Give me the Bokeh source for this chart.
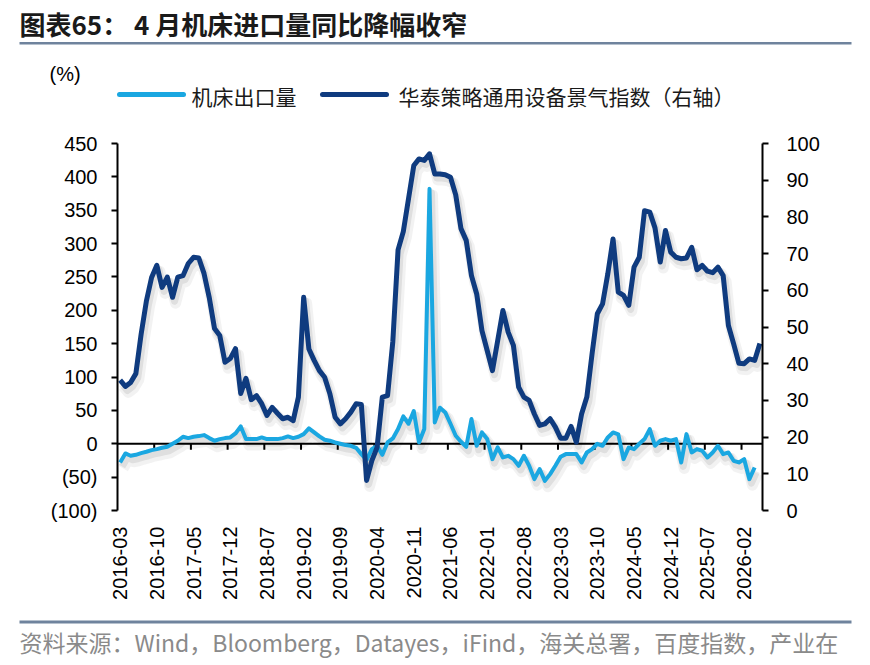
import math
import pandas as pd
from bokeh.plotting import figure
from bokeh.layouts import column
from bokeh.models import Range1d, LinearAxis, FixedTicker, ColumnDataSource, Span
from bokeh.core.properties import value
from bokeh.embed import file_html
from bokeh.resources import INLINE

# ---------------- data ----------------
months = list(pd.period_range("2016-03", periods=123, freq="M").strftime("%Y-%m"))

export_yoy = [
    -28, -14.5, -18, -16.5, -14, -12, -9.5, -8, -6, -4.5,
    0, 4.5, 10.5, 8.5, 10.5, 11.5, 13, 8.5, 4.5, 7,
    8.5, 9.5, 15.5, 26, 7, 7, 7, 9.5, 7, 7,
    7, 8.5, 11, 8.5, 10.5, 14.5, 23, 17, 11, 6,
    4.5, 2, 0, -2, -3, -6, -15.5, -24, -8, -3,
    -16.5, 2, 8, 22, 41, 30, 49, 2, 22, 382,
    32, 54, 47, 30, 12, 3, -4.5, 37, -3, 17,
    7, -23, -5.5, -20.5, -18, -23, -33, -18, -33, -53,
    -38, -55.5, -45.5, -33, -19.5, -15.5, -15.5, -15.5, -28, -13,
    -8, 0, -3, 9.5, 17, 14, -23, -5.5, -8, 0,
    7, 22, -3, 4.5, 7, 4.5, 7, -28, 14.5, -13,
    -8, -10.5, -20.5, -13, -3, -15.5, -13, -25.5, -28, -23,
    -53, -35.5, float("nan"),
]

equip_index = [
    35.5, 33.8, 34.9, 37.3, 48.0, 57.0, 63.5, 66.8, 60.8, 63.6,
    58.1, 63.6, 64.0, 67.3, 69.0, 68.8, 64.6, 58.0, 49.6, 47.7,
    40.4, 41.4, 44.1, 31.9, 36.0, 30.2, 31.3, 29.1, 25.9, 28.1,
    26.5, 25.0, 25.4, 24.5, 30.9, 58.1, 44.0, 40.9, 38.1, 36.3,
    31.8, 25.4, 23.6, 25.0, 26.8, 29.1, 28.9, 8.2, 13.6, 17.2,
    30.9, 31.3, 46.0, 71.0, 76.0, 85.0, 94.0, 95.8, 95.4, 97.2,
    91.7, 91.7, 91.5, 90.8, 86.0, 76.8, 73.6, 64.0, 59.0, 49.0,
    43.6, 38.1, 46.3, 54.5, 48.6, 45.0, 33.6, 30.9, 30.0, 26.3,
    23.2, 23.6, 25.0, 22.7, 19.7, 19.7, 22.9, 18.6, 26.3, 30.9,
    42.7, 53.6, 56.3, 64.5, 74.0, 59.5, 58.6, 55.9, 66.3, 69.0,
    81.7, 81.3, 77.0, 67.7, 76.3, 70.4, 69.0, 68.6, 68.8, 71.7,
    65.6, 66.8, 65.2, 64.8, 66.3, 64.0, 50.4, 45.4, 40.1, 40.0,
    41.3, 40.9, 45.5,
]

left_ticks = [-100, -50, 0, 50, 100, 150, 200, 250, 300, 350, 400, 450]
right_ticks = [0, 10, 20, 30, 40, 50, 60, 70, 80, 90, 100]
label_step = 7

title_text = "图表65： 4 月机床进口量同比降幅收窄"
unit_text = "(%)"
legend_export = "机床出口量"
legend_index = "华泰策略通用设备景气指数（右轴）"
source_text = "资料来源：Wind，Bloomberg，Datayes，iFind，海关总署，百度指数，产业在"

# ---------------- style / layout ----------------
LIGHT = "#1AA7E1"
DARK = "#0F3B7F"
RULE = "#6F839D"
CJK = "Noto Sans CJK SC"
LAT = "Liberation Sans"

W, H = 870, 665
HDR_H = 131            # header strip (title, unit, legend)
FT, FB = 143, 510      # frame top / bottom in page px
FL, FR = 117, 762      # frame left / right in page px
MAIN_BOTTOM = 612
MAIN_H = MAIN_BOTTOM - HDR_H
FOOT_H = H - MAIN_BOTTOM

def blank(height):
    f = figure(width=W, height=height, x_range=Range1d(0, W), y_range=Range1d(height, 0),
               output_backend="svg", toolbar_location=None, min_border=0,
               x_axis_type=None, y_axis_type=None)
    f.frame_align = False
    f.outline_line_color = None
    f.xgrid.visible = False
    f.ygrid.visible = False
    f.background_fill_color = "white"
    f.border_fill_color = "white"
    return f

# ---------------- header ----------------
hdr = blank(HDR_H)
hdr.text(x=[19], y=[23], text=[title_text], text_font=value(CJK), text_font_size="26px",
         text_font_style="bold", text_color="#1A1A1A", text_baseline="middle")
hdr.quad(left=[19], right=[851], top=[41.5], bottom=[44], fill_color=RULE, line_color=None)
hdr.text(x=[49], y=[73], text=[unit_text], text_font=value(LAT), text_font_size="20px",
         text_color="#000000", text_baseline="middle")
hdr.segment(x0=[119], y0=[94], x1=[183], y1=[94], line_color=LIGHT, line_width=5, line_cap="round")
hdr.text(x=[191], y=[95], text=[legend_export], text_font=value(CJK), text_font_size="21px",
         text_color="#1A1A1A", text_baseline="middle")
hdr.segment(x0=[322], y0=[94], x1=[386], y1=[94], line_color=DARK, line_width=5, line_cap="round")
hdr.text(x=[398], y=[95], text=[legend_index], text_font=value(CJK), text_font_size="21px",
         text_color="#1A1A1A", text_baseline="middle")

# ---------------- main chart ----------------
n = len(months)
idx = list(range(n))
px_per_cat = (FR - FL) / n
left_units_per_px = (left_ticks[-1] - left_ticks[0]) / (FB - FT)
right_units_per_px = (right_ticks[-1] - right_ticks[0]) / (FB - FT)

src = ColumnDataSource(dict(x=idx, exp=export_yoy, ind=equip_index))

def shadow_source(dx_px, dy_px):
    return ColumnDataSource(dict(
        x=[i + dx_px / px_per_cat for i in idx],
        exp=[v - dy_px * left_units_per_px for v in export_yoy],
        ind=[v - dy_px * right_units_per_px for v in equip_index],
    ))

p = figure(width=W, height=MAIN_H,
           x_range=Range1d(-0.5, n - 0.5),
           y_range=Range1d(left_ticks[0], left_ticks[-1]),
           output_backend="svg", toolbar_location=None,
           min_border_left=FL, min_border_right=W - FR,
           min_border_top=FT - HDR_H, min_border_bottom=MAIN_BOTTOM - FB)
p.frame_align = False
p.outline_line_color = None
p.xgrid.visible = False
p.ygrid.visible = False
p.background_fill_color = "white"
p.border_fill_color = "white"
p.extra_y_ranges = {"right": Range1d(right_ticks[0], right_ticks[-1])}

label_idx = [i for i in range(0, n, label_step) if i <= n - 4]
xa = p.xaxis[0]
xa.ticker = FixedTicker(ticks=label_idx)
xa.major_label_overrides = {i: months[i] for i in label_idx}
xa.major_label_orientation = math.pi / 2
xa.axis_line_color = None
xa.major_tick_line_color = None
xa.minor_tick_line_color = None
xa.major_label_standoff = 10
xa.major_label_text_font = LAT
xa.major_label_text_font_size = "20px"
xa.major_label_text_color = "#000000"

def style_y(ax, ticks, overrides, standoff):
    ax.ticker = FixedTicker(ticks=ticks)
    ax.major_label_overrides = overrides
    ax.axis_line_color = "black"
    ax.axis_line_width = 2
    ax.major_tick_line_color = "black"
    ax.major_tick_line_width = 2
    ax.major_tick_out = 6
    ax.major_tick_in = 0
    ax.minor_tick_line_color = None
    ax.major_label_standoff = standoff
    ax.major_label_text_font = LAT
    ax.major_label_text_font_size = "20px"
    ax.major_label_text_color = "#000000"

style_y(p.yaxis[0], left_ticks,
        {v: (f"({-v})" if v < 0 else str(v)) for v in left_ticks}, 14)
ra = LinearAxis(y_range_name="right")
style_y(ra, right_ticks, {v: str(v) for v in right_ticks}, 18)
p.add_layout(ra, "right")

p.add_layout(Span(location=0, dimension="width", line_color="black",
                  line_width=2, level="underlay"))
bt = [k * label_step - 0.5 for k in range(1, n // label_step + 1) if k * label_step - 0.5 < n - 1]
tick_len = 6 * left_units_per_px
p.segment(x0=bt, y0=[0] * len(bt), x1=bt, y1=[-tick_len] * len(bt),
          line_color="black", line_width=2, level="underlay")

for dx, dy, wdt, al in [(3, 6, 11, 0.05), (2, 4, 7, 0.08)]:
    s = shadow_source(dx, dy)
    p.line("x", "exp", source=s, line_color="black", line_alpha=al,
           line_width=wdt, line_join="round")
    p.line("x", "ind", source=s, line_color="black", line_alpha=al,
           line_width=wdt, line_join="round", y_range_name="right")

p.line("x", "exp", source=src, line_color=LIGHT, line_width=4, line_join="round")
p.line("x", "ind", source=src, line_color=DARK, line_width=5, line_join="round",
       y_range_name="right")

# ---------------- footer ----------------
ftr = blank(FOOT_H)
ftr.quad(left=[19], right=[851], top=[620 - MAIN_BOTTOM], bottom=[623 - MAIN_BOTTOM],
         fill_color=RULE, line_color=None)
ftr.text(x=[19], y=[641 - MAIN_BOTTOM], text=[source_text], text_font=value(CJK),
         text_font_size="23px", text_color="#8A8A8A", text_baseline="middle")

layout = column(hdr, p, ftr, spacing=0)
open("out.html", "w").write(file_html(layout, INLINE))
